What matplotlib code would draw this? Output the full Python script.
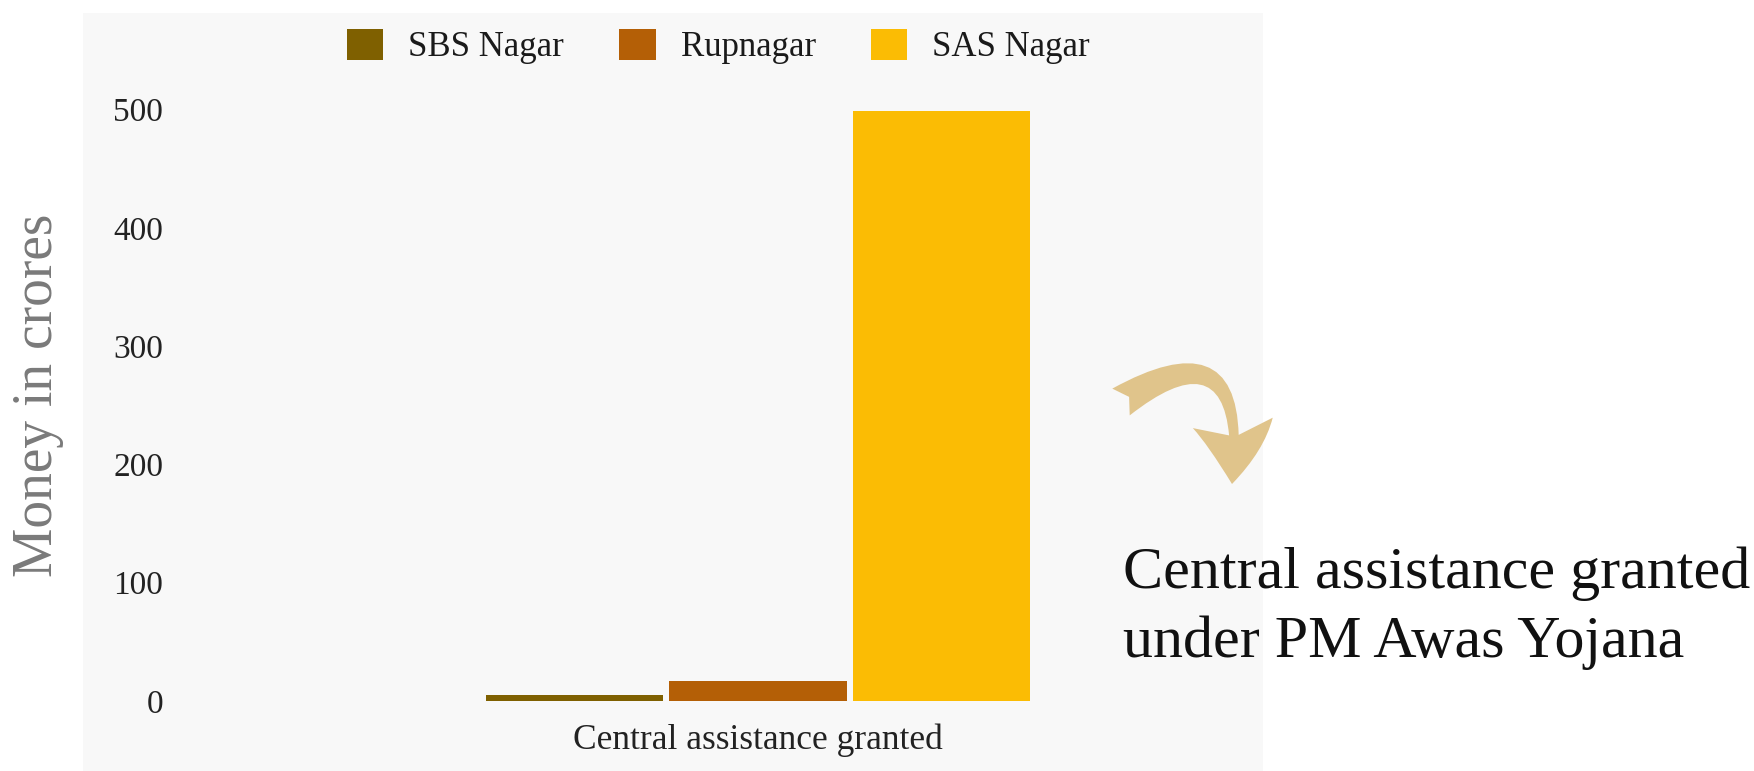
import matplotlib
matplotlib.use("Agg")
import matplotlib.pyplot as plt
import numpy as np
from matplotlib.patches import Rectangle, FancyArrowPatch
from matplotlib.path import Path

# ---- data ----
categories = ["Central assistance granted"]
series_names = ["SBS Nagar", "Rupnagar", "SAS Nagar"]
series_values = [5.2, 17.3, 499]
series_colors = ["#7f6000", "#b45f06", "#fbbc04"]
y_ticks = [0, 100, 200, 300, 400, 500]
y_label = "Money in crores"
side_lines = ["Central assistance granted", "under PM Awas Yojana"]

W, H = 1754, 771
plt.rcParams['font.family'] = ['Liberation Serif', 'DejaVu Serif']

fig = plt.figure(figsize=(W / 100, H / 100), dpi=100)
fig.patch.set_facecolor("white")


def fx(px):
    return px / W


def fy(py):
    return 1 - py / H


# light gray panel behind the chart
fig.patches.append(Rectangle((fx(83), 0), fx(1263) - fx(83), fy(13), transform=fig.transFigure,
                             facecolor="#f8f8f8", edgecolor="none", zorder=-10))

ax = fig.add_axes([fx(175), fy(701), fx(1341) - fx(175), fy(109.5) - fy(701)])
ax.set_facecolor("none")
ax.set_zorder(1)
for s in ax.spines.values():
    s.set_visible(False)

step = 0.1576
width = 0.152
handles = []
for i, (name, val, col) in enumerate(zip(series_names, series_values, series_colors)):
    b = ax.bar([(i - 1) * step], [val], width=width, color=col, label=name, zorder=3)
    handles.append(b)

ax.set_xlim(-0.5, 0.5)
ax.set_ylim(0, 500)
ax.set_yticks(y_ticks)
ax.set_yticklabels([str(t) for t in y_ticks], fontsize=24, color="#222222")
ax.set_xticks([0])
ax.set_xticklabels(categories, fontsize=25.5, color="#222222")
ax.tick_params(axis="y", length=0, pad=8.6)
ax.tick_params(axis="x", length=0, pad=16.5)

fig.legend(handles=handles, labels=series_names, loc="center left",
           bbox_to_anchor=(fx(347), fy(46.5)), ncol=3, frameon=False,
           fontsize=25, handlelength=1.04, handleheight=1.0, handletextpad=0.72,
           columnspacing=1.6, borderpad=0, borderaxespad=0,
           labelcolor="#1a1a1a")

fig.text(fx(51.7), fy(395), y_label, rotation=90, rotation_mode="anchor",
         ha="center", va="baseline", fontsize=40, color="#7a7a7a")

# curved arrow
pts = [(1121, 402), (1250, 318), (1232, 484)]
verts = [(fx(x), fy(y)) for x, y in pts]
path = Path(verts, [Path.MOVETO, Path.CURVE3, Path.CURVE3])
arrow = FancyArrowPatch(path=path, transform=fig.transFigure,
                        arrowstyle="fancy,head_length=4.4,head_width=5.8,tail_width=2.3",
                        mutation_scale=10, color="#e0c48b", lw=0, zorder=2,
                        shrinkA=0, shrinkB=0)
fig.patches.append(arrow)

fig.text(fx(1123), fy(588), side_lines[0], ha="left", va="baseline", fontsize=43.2, color="#111111")
fig.text(fx(1123), fy(656.7), side_lines[1], ha="left", va="baseline", fontsize=43.2, color="#111111")

fig.savefig("out.png", dpi=100, facecolor="white")
